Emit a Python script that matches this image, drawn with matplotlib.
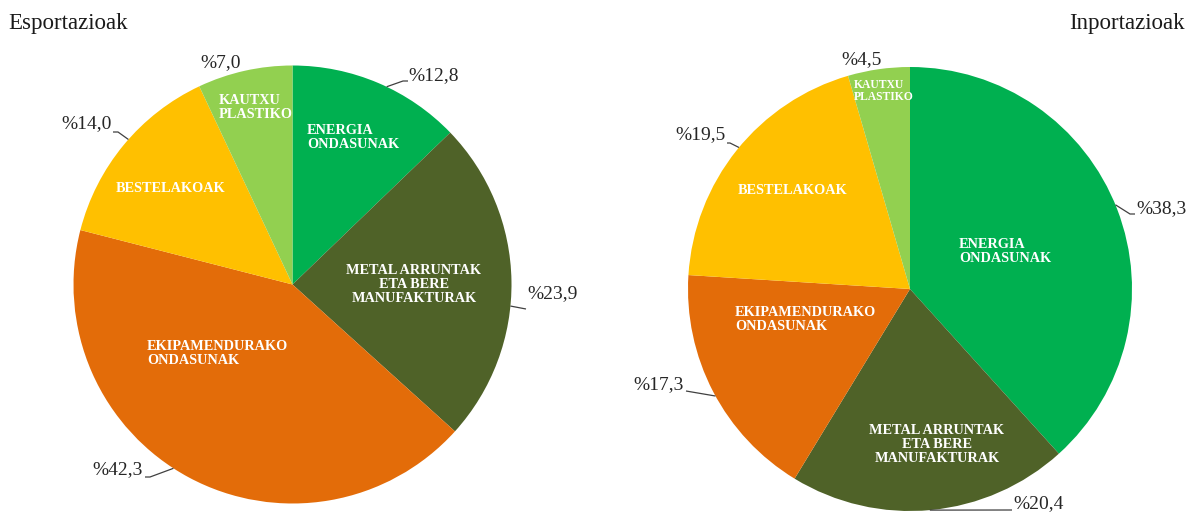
import matplotlib
matplotlib.use("Agg")
import matplotlib.pyplot as plt
import numpy as np

# ---- data ----
categories = ["ENERGIA\nONDASUNAK", "METAL ARRUNTAK\nETA BERE\nMANUFAKTURAK",
              "EKIPAMENDURAKO\nONDASUNAK", "BESTELAKOAK", "KAUTXU\nPLASTIKO"]
export_values = [12.8, 23.9, 42.3, 14.0, 7.0]
import_values = [38.3, 20.4, 17.3, 19.5, 4.5]
titles = ["Esportazioak", "Inportazioak"]
colors = ["#00B050", "#4F6228", "#E36C09", "#FFC000", "#92D050"]

W, H = 1191, 513
fig = plt.figure(figsize=(W / 100, H / 100), dpi=100)
ax = fig.add_axes([0, 0, 1, 1])

FONT = "Liberation Serif"

def P(x, y):
    """pixel coords (from top-left) -> data coords"""
    return x, H - y

def fmt(v):
    return "%" + f"{v:.1f}".replace(".", ",")

pies = [
    dict(values=export_values, center=(292.5, 284.5), r=219,
         inner=[(307, 137, "left"), (414, 285, "center"), (147, 353, "left"),
                (116, 189, "left"), (219, 108, "left")],
         inner_size=[10.3, 10.3, 10.3, 10.3, 10.3],
         pct=[(408, 76, "left"), (527, 294, "left"), (143, 470, "right"),
              (112, 124, "right"), (221, 63, "center")],
         leaders=[[(387, 86), (403, 81), (408, 81)],
                  [(510, 306), (526, 309)],
                  [(173, 469), (150, 477), (145, 477)],
                  [(129, 140), (118, 132), (113, 132)],
                  None]),
    dict(values=import_values, center=(910, 289), r=222,
         inner=[(959, 251, "left"), (937, 444, "center"), (735, 320, "left"),
                (738, 191, "left"), (854, 91, "left")],
         inner_size=[10.3, 10.3, 10.3, 10.3, 8.4],
         pct=[(1136, 209, "left"), (1013, 504, "left"), (684, 385, "right"),
              (726, 135, "right"), (862, 60, "center")],
         leaders=[[(1110, 207), (1130, 214), (1135, 214)],
                  [(930, 512), (1012, 510)],
                  [(721, 393), (686, 391)],
                  [(742, 150), (730, 143), (727, 143)],
                  None]),
]

for p in pies:
    cx, cy = P(*p["center"])
    wedges, _ = ax.pie(p["values"], colors=colors, startangle=90, counterclock=False,
                       center=(cx, cy), radius=p["r"],
                       wedgeprops=dict(linewidth=0, edgecolor="none"))
    # category labels
    for (x, y, ha), lab, fs in zip(p["inner"], categories, p["inner_size"]):
        ax.text(*P(x, y), lab, ha=ha, va="center", color="white", fontsize=fs,
                fontweight="bold", family=FONT, linespacing=1.1,
                multialignment=ha)
    # percent labels with leader lines
    for v, (x, y, ha), lead in zip(p["values"], p["pct"], p["leaders"]):
        ax.text(*P(x, y), fmt(v), ha=ha, va="center", color="#262626",
                fontsize=14, family=FONT)
        if lead is not None:
            pts = np.array([P(*q) for q in lead], dtype=float)
            # snap the first point onto the pie's rim
            d = pts[0] - np.array([cx, cy])
            pts[0] = np.array([cx, cy]) + d / np.hypot(*d) * p["r"]
            ax.plot(pts[:, 0], pts[:, 1], color="#404040", lw=0.9,
                    solid_capstyle="butt")

ax.text(*P(8, 24), titles[0], ha="left", va="center", fontsize=16.5,
        family=FONT, color="#1a1a1a")
ax.text(*P(1185, 24), titles[1], ha="right", va="center", fontsize=16.5,
        family=FONT, color="#1a1a1a")

ax.set_xlim(0, W)
ax.set_ylim(0, H)
ax.set_aspect("auto")
ax.axis("off")

fig.savefig("out.png", dpi=100, facecolor="white")
